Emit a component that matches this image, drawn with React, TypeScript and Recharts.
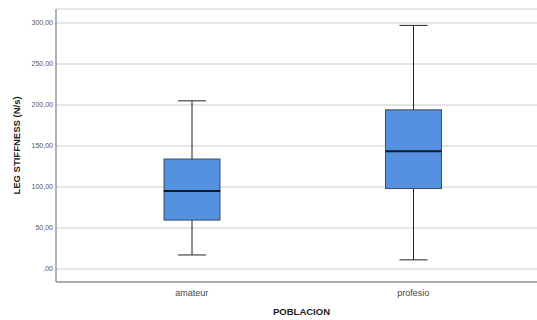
import React from "react";
import {
  ComposedChart,
  Bar,
  XAxis,
  YAxis,
  CartesianGrid,
  Label,
} from "recharts";

// Box plot statistics
const categories = ["amateur", "profesio"];
const mins = [17, 11];
const q1s = [59.5, 98];
const medians = [95, 143.5];
const q3s = [134, 194];
const maxs = [205, 297];
const yTicks = [0, 50, 100, 150, 200, 250, 300];

const data = categories.map((name, i) => ({
  name,
  base: mins[i],
  lowWhisker: q1s[i] - mins[i],
  boxLow: medians[i] - q1s[i],
  boxHigh: q3s[i] - medians[i],
  highWhisker: maxs[i] - q3s[i],
}));

const BOX_FILL = "#5591e0";
const BOX_STROKE = "#3d4c60";
const CAP = 28;

function formatTick(v: number) {
  if (v === 0) return ",00";
  return v.toFixed(2).replace(".", ",");
}

function LowWhisker(props: any) {
  const { x, y, width, height } = props;
  const cx = x + width / 2;
  return (
    <g>
      <line x1={cx} x2={cx} y1={y} y2={y + height} stroke="#222" strokeWidth={1} />
      <line x1={cx - CAP / 2} x2={cx + CAP / 2} y1={y + height} y2={y + height} stroke="#222" strokeWidth={1} />
    </g>
  );
}

function HighWhisker(props: any) {
  const { x, y, width, height } = props;
  const cx = x + width / 2;
  return (
    <g>
      <line x1={cx} x2={cx} y1={y} y2={y + height} stroke="#222" strokeWidth={1} />
      <line x1={cx - CAP / 2} x2={cx + CAP / 2} y1={y} y2={y} stroke="#222" strokeWidth={1} />
    </g>
  );
}

function BoxLow(props: any) {
  const { x, y, width, height } = props;
  return <rect x={x} y={y} width={width} height={height} fill={BOX_FILL} stroke={BOX_STROKE} strokeWidth={1} />;
}

function BoxHigh(props: any) {
  const { x, y, width, height } = props;
  return (
    <g>
      <rect x={x} y={y} width={width} height={height} fill={BOX_FILL} stroke={BOX_STROKE} strokeWidth={1} />
      <line x1={x} x2={x + width} y1={y + height} y2={y + height} stroke="#141a24" strokeWidth={2} />
    </g>
  );
}

export default function App() {
  return (
    <div style={{ position: "absolute", left: 0, top: 0, background: "#fff" }}>
      <ComposedChart
        width={537}
        height={320}
        data={data}
        margin={{ top: 9, right: 0, left: 0, bottom: 0 }}
        style={{ fontFamily: "'Liberation Sans', Arial, sans-serif" }}
      >
        <CartesianGrid vertical={false} stroke="#dedede" strokeWidth={1.5} />
        <XAxis
          dataKey="name"
          height={38}
          padding={{ left: 25, right: 13 }}
          tickLine={false}
          axisLine={{ stroke: "#999", strokeWidth: 1.5 }}
          tick={{ fontSize: 9, fill: "#444" }}
        >
          <Label
            value="POBLACION"
            position="center"
            dy={11}
            dx={5}
            style={{ fontSize: 9.5, fontWeight: "bold", fill: "#222" }}
          />
        </XAxis>
        <YAxis
          width={56}
          domain={[-16, 317]}
          ticks={yTicks}
          allowDataOverflow
          tickFormatter={formatTick}
          tickSize={0}
          tickMargin={3}
          tickLine={false}
          axisLine={{ stroke: "#999", strokeWidth: 1.5 }}
          tick={{ fontSize: 7, fill: "#555" }}
        >
          <Label
            value="LEG STIFFNESS (N/s)"
            angle={-90}
            position="center"
            dx={-11}
            style={{ fontSize: 9.5, fontWeight: "bold", fill: "#222", textAnchor: "middle" }}
          />
        </YAxis>
        <Bar dataKey="base" stackId="a" barSize={56} fill="transparent" isAnimationActive={false} />
        <Bar dataKey="lowWhisker" stackId="a" barSize={56} shape={LowWhisker} isAnimationActive={false} />
        <Bar dataKey="boxLow" stackId="a" barSize={56} shape={BoxLow} isAnimationActive={false} />
        <Bar dataKey="boxHigh" stackId="a" barSize={56} shape={BoxHigh} isAnimationActive={false} />
        <Bar dataKey="highWhisker" stackId="a" barSize={56} shape={HighWhisker} isAnimationActive={false} />
      </ComposedChart>
    </div>
  );
}
